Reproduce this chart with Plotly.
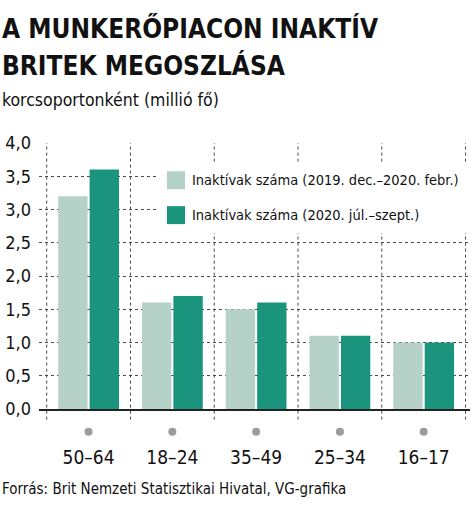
import plotly.graph_objects as go

categories = ["50–64", "18–24", "35–49", "25–34", "16–17"]
series_names = ["Inaktívak száma (2019. dec.–2020. febr.)", "Inaktívak száma (2020. júl.–szept.)"]
values_before = [3.2, 1.6, 1.5, 1.1, 1.0]
values_after = [3.6, 1.7, 1.6, 1.1, 1.0]
y_ticks = [0, 0.5, 1.0, 1.5, 2.0, 2.5, 3.0, 3.5, 4.0]
y_tick_labels = ["0,0", "0,5", "1,0", "1,5", "2,0", "2,5", "3,0", "3,5", "4,0"]

title_lines = ["A MUNKERŐPIACON INAKTÍV", "BRITEK MEGOSZLÁSA"]
subtitle = "korcsoportonként (millió fő)"
source = "Forrás: Brit Nemzeti Statisztikai Hivatal, VG-grafika"

FONT = "Liberation Sans Narrow, DejaVu Sans Condensed, Roboto Condensed, Arial Narrow, sans-serif"
LIGHT = "#b6d2c8"
DARK = "#1a947c"
GRID = "#4a4a4a"

W, H = 474, 511
ML, MR, MT, MB = 39, 4, 142.7, 101.7
PW = W - ML - MR
PH = H - MT - MB

def px_x(p):
    return (p - ML) / PW

def px_y(p):
    return (H - MB - p) / PH

fig = go.Figure()
fig.add_trace(go.Bar(x=categories, y=values_before, name=series_names[0],
                     marker=dict(color=LIGHT, line=dict(width=0)), showlegend=False))
fig.add_trace(go.Bar(x=categories, y=values_after, name=series_names[1],
                     marker=dict(color=DARK, line=dict(width=0)), showlegend=False))

shapes = []
for i in range(len(categories) + 1):
    shapes.append(dict(type="line", xref="x", yref="paper", x0=i - 0.5, x1=i - 0.5,
                       y0=-0.04, y1=1, layer="below",
                       line=dict(color=GRID, width=1, dash="3px,3px")))
# grey dots under category labels
for i in range(len(categories)):
    shapes.append(dict(type="circle", xref="x", xsizemode="pixel", xanchor=i, x0=-4, x1=4,
                       yref="paper", ysizemode="pixel", yanchor=px_y(432), y0=-4, y1=4,
                       fillcolor="#9c9c9c", line=dict(width=0), layer="above"))
# white legend background
shapes.append(dict(type="rect", xref="paper", yref="paper", x0=px_x(158), x1=px_x(W + 10),
                   y0=px_y(233), y1=px_y(162), fillcolor="white", line=dict(width=0), layer="above"))
annotations = []
legend_rows = [(180, LIGHT, series_names[0]), (215, DARK, series_names[1])]
for cy, col, name in legend_rows:
    shapes.append(dict(type="rect", xref="paper", yref="paper", x0=px_x(167), x1=px_x(185),
                       y0=px_y(cy + 9), y1=px_y(cy - 9), fillcolor=col, line=dict(width=0), layer="above"))
    annotations.append(dict(text=name, xref="paper", yref="paper", x=px_x(190), y=px_y(cy),
                            xanchor="left", yanchor="middle", showarrow=False,
                            font=dict(family=FONT, size=14.5, color="#111")))

annotations.append(dict(text="<b>" + title_lines[0] + "</b>", xref="paper", yref="paper",
                        x=px_x(0), y=px_y(28), xanchor="left", yanchor="middle", showarrow=False,
                        font=dict(family=FONT, size=26, color="#111")))
annotations.append(dict(text="<b>" + title_lines[1] + "</b>", xref="paper", yref="paper",
                        x=px_x(0), y=px_y(65), xanchor="left", yanchor="middle", showarrow=False,
                        font=dict(family=FONT, size=26, color="#111")))
annotations.append(dict(text=subtitle, xref="paper", yref="paper",
                        x=px_x(0), y=px_y(100), xanchor="left", yanchor="middle", showarrow=False,
                        font=dict(family=FONT, size=17.5, color="#111")))
annotations.append(dict(text=source, xref="paper", yref="paper",
                        x=px_x(0), y=px_y(489), xanchor="left", yanchor="middle", showarrow=False,
                        font=dict(family=FONT, size=15, color="#111")))

fig.update_layout(
    width=W, height=H,
    margin=dict(l=ML, r=MR, t=MT, b=MB, pad=0, autoexpand=False),
    paper_bgcolor="white", plot_bgcolor="white",
    barmode="group", bargap=0.25, bargroupgap=0.065,
    shapes=shapes, annotations=annotations,
    font=dict(family=FONT, color="#111"),
)
fig.update_xaxes(range=[-0.592, 4.553], showgrid=False, showline=True, linecolor="#222",
                 linewidth=2, ticks="", ticklabelstandoff=30, automargin=False,
                 tickfont=dict(family=FONT, size=19, color="#111"), fixedrange=True)
fig.update_yaxes(range=[0, 4.0], tickvals=y_ticks, ticktext=y_tick_labels, showgrid=True,
                 gridcolor=GRID, griddash="3px,3px", gridwidth=1, zeroline=False,
                 showline=False, ticks="", ticklabelstandoff=7, automargin=False,
                 tickfont=dict(family=FONT, size=18, color="#111"), fixedrange=True)

fig.write_html("out.html", config={"displayModeBar": False},
               post_script="document.body.style.margin='0';")
